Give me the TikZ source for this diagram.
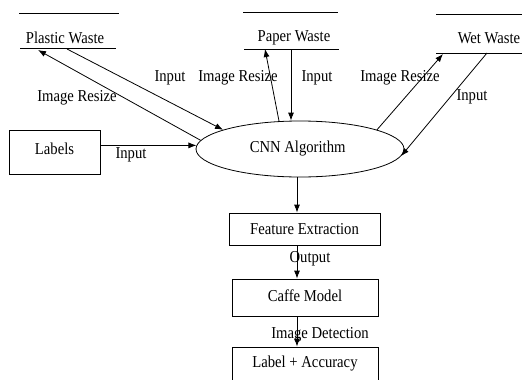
\documentclass[tikz,border=0pt]{standalone}
\usepackage{fontspec}
\setmainfont{Liberation Serif}[FakeStretch=0.88]
\usetikzlibrary{arrows.meta,shapes.geometric}
\tikzset{
  arr/.style={draw, line width=0.6pt, -{Latex[length=6pt,width=4.5pt]}},
  ln/.style={draw, line width=0.6pt},
  boxn/.style={draw, line width=0.6pt, rectangle, inner sep=0pt},
  txt/.style={inner sep=0pt, font=\fontsize{12.5}{14}\selectfont},
}
\begin{document}
\begin{tikzpicture}[x=0.75pt,y=-0.75pt, font=\fontsize{12.5}{14}\selectfont]
\path[use as bounding box, clip] (0,0) rectangle (522,379);
\fill[white] (0,0) rectangle (522,379);

% data stores
\node[txt] (plastic) at (65,38) {Plastic Waste};
\coordinate (plTL) at (19,13); \coordinate (plTR) at (119,13);
\coordinate (plBL) at (20,48); \coordinate (plBR) at (116,48);
\draw[ln] (plTL) -- (plTR);
\draw[ln] (plBL) -- (plBR);
\coordinate (plIn) at (38,50);
\coordinate (plOut) at (67,49);

\node[txt] (paper) at (294,38) {Paper Waste};
\coordinate (paTL) at (243,12); \coordinate (paTR) at (338,12);
\coordinate (paBL) at (244,49); \coordinate (paBR) at (339,49);
\draw[ln] (paTL) -- (paTR);
\draw[ln] (paBL) -- (paBR);
\coordinate (paIn) at (265,49);
\coordinate (paOut) at (291,49);

\node[txt] (wet) at (489,38) {Wet Waste};
\coordinate (weTL) at (436,14); \coordinate (weTR) at (523,14);
\coordinate (weBL) at (436,53); \coordinate (weBR) at (523,53);
\draw[ln] (weTL) -- (weTR);
\draw[ln] (weBL) -- (weBR);
\coordinate (weIn) at (443,54);
\coordinate (weOut) at (487,53);

% main nodes
\node[draw, line width=0.6pt, ellipse, inner sep=0pt, minimum width=156pt, minimum height=42pt] (cnn) at (300,149) {\hspace*{-3.5pt}\raisebox{1pt}{CNN Algorithm}};
\node[boxn, minimum width=68.25pt, minimum height=33pt] (labels) at (54.5,152) {\raisebox{4.5pt}{Labels}};
\node[boxn, minimum width=113.25pt, minimum height=24pt] (feature) at (304.5,229) {Feature Extraction};
\node[boxn, minimum width=109.5pt, minimum height=27.75pt] (caffe) at (305,297.5) {\raisebox{2.5pt}{Caffe Model}};
\node[boxn, minimum width=109.5pt, minimum height=25.5pt] (result) at (305,364) {Label + Accuracy};

% connectors
\draw[arr] (cnn.175) -- (plIn);
\draw[arr] (plOut) -- (cnn.166);
\draw[arr] (cnn.127) -- (paIn);
\draw[arr] (paOut) -- (paOut |- cnn.north);
\draw[arr] (cnn.14) -- (weIn);
\draw[arr] (weOut) -- (cnn.-4);
\draw[arr] (cnn.178 -| labels.east) -- (cnn.178);
\coordinate (cdown) at ([xshift=-2.25pt]cnn.south);
\draw[arr] (cdown) -- (cdown |- feature.north);
\coordinate (fdown) at (cdown |- feature.south);
\draw[arr] (fdown) -- (fdown |- caffe.north);
\coordinate (mdown) at (cdown |- caffe.south);
\draw[arr] (mdown) -- (mdown |- result.north);

% edge labels
\node[txt] (l1) at (170,78) {Input};
\node[txt] (l2) at (77,98) {Image Resize};
\node[txt] (l3) at (238,78) {Image Resize};
\node[txt] (l4) at (317,78) {Input};
\node[txt] (l5) at (400,78) {Image Resize};
\node[txt] (l6) at (472,97) {Input};
\node[txt] (l7) at (131,155) {Input};
\node[txt] (l8) at (310,259) {Output};
\node[txt] (l9) at (320,335) {Image Detection};
\end{tikzpicture}
\end{document}
